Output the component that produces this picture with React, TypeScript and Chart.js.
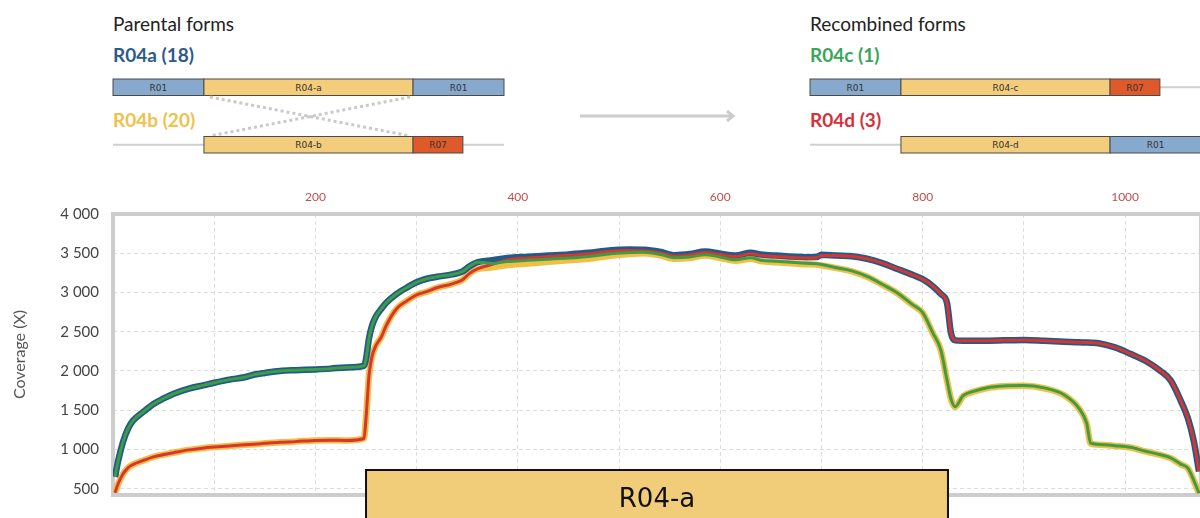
import React, { useEffect, useRef } from 'react';
import { Chart, registerables } from 'chart.js';

Chart.register(...registerables);

// ---------- data ----------
const positions = [
  2, 5, 10, 15, 20, 30, 40, 50, 60, 75, 90, 100, 115, 130, 140, 150, 165, 180, 200, 215, 230, 248,
  250, 253, 256, 260, 265, 270, 280, 290, 300, 310, 320, 335, 345, 352, 360,
  375, 390, 410, 430, 450, 470, 490, 510, 525, 540, 555, 570, 585, 600, 615, 630, 640, 655, 670, 685, 695, 700,
  715, 730, 745, 760, 775, 790, 800, 810, 818, 824, 828, 832,
  840, 850, 865, 880, 900, 920, 940, 955, 962, 966, 975, 990, 1005, 1020, 1035, 1045, 1055, 1062, 1068, 1073,
];

const r04a = [
  650, 850, 1100, 1270, 1370, 1480, 1580, 1650, 1710, 1775, 1820, 1850, 1890, 1920, 1955, 1975, 2000, 2010, 2020, 2030, 2045, 2065,
  2150, 2420, 2580, 2700, 2790, 2870, 2980, 3060, 3130, 3175, 3200, 3230, 3265, 3330, 3385,
  3410, 3440, 3455, 3470, 3485, 3505, 3535, 3548, 3545, 3520, 3475, 3490, 3522, 3495, 3470, 3505, 3485, 3470, 3460, 3450, 3452, 3480,
  3470, 3462, 3430, 3375, 3300, 3225, 3170, 3080, 2980, 2870, 2480, 2390,
  2386, 2385, 2386, 2390, 2395, 2385, 2372, 2365, 2362, 2360, 2350, 2300, 2220, 2130, 2000, 1880, 1620, 1400, 1100, 720,
];

const r04b = [
  450, 560, 690, 770, 810, 860, 905, 935, 960, 995, 1020, 1030, 1045, 1060, 1068, 1078, 1092, 1100, 1115, 1118, 1115, 1140,
  1400, 1950, 2190, 2330, 2430, 2580, 2790, 2890, 2970, 3010, 3060, 3110, 3160, 3240, 3300,
  3320, 3350, 3370, 3390, 3410, 3430, 3465, 3490, 3500, 3475, 3430, 3440, 3470, 3440, 3405, 3430, 3400, 3385, 3372, 3360, 3355, 3345,
  3310, 3270, 3200, 3100, 2990, 2840, 2740, 2480, 2260, 1880, 1640, 1540,
  1680, 1735, 1785, 1805, 1812, 1780, 1690, 1510, 1330, 1075, 1060, 1045, 1025, 975, 930, 890, 810, 760, 600, 440,
];

const r04c = [
  650, 850, 1100, 1270, 1370, 1480, 1580, 1650, 1710, 1775, 1820, 1850, 1890, 1920, 1955, 1975, 2000, 2010, 2020, 2030, 2045, 2065,
  2150, 2420, 2580, 2700, 2790, 2870, 2980, 3060, 3130, 3175, 3200, 3230, 3265, 3330, 3385,
  3370, 3395, 3410, 3425, 3440, 3460, 3490, 3510, 3512, 3487, 3442, 3452, 3482, 3452, 3417, 3442, 3412, 3397, 3384, 3372, 3367, 3357,
  3315, 3275, 3205, 3105, 2995, 2845, 2745, 2485, 2265, 1885, 1645, 1545,
  1685, 1740, 1790, 1810, 1815, 1785, 1695, 1515, 1335, 1080, 1063, 1048, 1028, 978, 933, 893, 813, 763, 603, 443,
];

const r04d = [
  450, 560, 690, 770, 810, 860, 905, 935, 960, 995, 1020, 1030, 1045, 1060, 1068, 1078, 1092, 1100, 1115, 1118, 1115, 1140,
  1400, 1950, 2190, 2330, 2430, 2580, 2790, 2890, 2970, 3010, 3060, 3110, 3160, 3240, 3300,
  3360, 3415, 3440, 3458, 3473, 3493, 3523, 3536, 3533, 3508, 3463, 3478, 3510, 3483, 3458, 3493, 3473, 3458, 3448, 3438, 3442, 3472,
  3470, 3462, 3430, 3375, 3300, 3225, 3170, 3080, 2980, 2870, 2480, 2390,
  2386, 2385, 2386, 2390, 2395, 2385, 2372, 2365, 2362, 2360, 2350, 2300, 2220, 2130, 2000, 1880, 1620, 1400, 1100, 720,
];

const xGridValues = [0, 100, 200, 300, 400, 500, 600, 700, 800, 900, 1000];
const xLabelValues = [200, 400, 600, 800, 1000];
const yTickValues = [500, 1000, 1500, 2000, 2500, 3000, 3500, 4000];
const genomeLength = 1075;
const highlightRegion = { name: 'R04-a', start: 250, end: 825 };

const parentalA = [
  { name: 'R01', start: 0, end: 250 },
  { name: 'R04-a', start: 250, end: 825 },
  { name: 'R01', start: 825, end: 1075 },
];
const parentalB = [
  { name: 'R04-b', start: 250, end: 825 },
  { name: 'R07', start: 825, end: 962 },
];
const recombC = [
  { name: 'R01', start: 0, end: 250 },
  { name: 'R04-c', start: 250, end: 825 },
  { name: 'R07', start: 825, end: 962 },
];
const recombD = [
  { name: 'R04-d', start: 250, end: 825 },
  { name: 'R01', start: 825, end: 1075 },
];

// ---------- styling helpers ----------
const segColor = (name: string) =>
  name.startsWith('R01') ? '#86a9cd' : name.startsWith('R07') ? '#df5a2b' : '#f3cd7b';

const DIAG_W = 391;
const k = DIAG_W / genomeLength;

function Track({ ox, y, segs }: { ox: number; y: number; segs: { name: string; start: number; end: number }[] }) {
  const h = 16.5;
  return (
    <g>
      <line x1={ox} x2={ox + DIAG_W} y1={y + h / 2} y2={y + h / 2} stroke="#cfcfcf" strokeWidth={2} />
      {segs.map((s, i) => {
        const x = ox + s.start * k;
        const w = (s.end - s.start) * k;
        return (
          <g key={i}>
            <rect x={x} y={y} width={w} height={h} fill={segColor(s.name)} stroke="#4a4a4a" strokeWidth={1} />
            <text
              x={x + w / 2}
              y={y + 11.8}
              textAnchor="middle"
              fontFamily="DejaVu Sans"
              fontSize={9}
              fill="#333"
            >
              {s.name}
            </text>
          </g>
        );
      })}
    </g>
  );
}

function Diagram() {
  const g1 = 113;
  const g2 = 810;
  const rowA = 79;
  const rowB = 136.5;
  return (
    <svg width={1200} height={170} style={{ position: 'absolute', left: 0, top: 0 }}>
      <text x={g1} y={31} fontFamily="Lato" fontSize={19} fill="#222">Parental forms</text>
      <text x={g1} y={62} fontFamily="Lato" fontWeight="bold" fontSize={19} fill="#2d5a8c">R04a (18)</text>
      <Track ox={g1} y={rowA} segs={parentalA} />
      <line x1={g1 + 250 * k + 6} y1={97} x2={g1 + 825 * k - 3} y2={136} stroke="#c9c9c9" strokeWidth={3} strokeDasharray="3 3" />
      <line x1={g1 + 825 * k - 3} y1={97} x2={g1 + 250 * k + 6} y2={136} stroke="#c9c9c9" strokeWidth={3} strokeDasharray="3 3" />
      <text x={g1} y={127} fontFamily="Lato" fontWeight="bold" fontSize={19} fill="#f0c14c">R04b (20)</text>
      <Track ox={g1} y={rowB} segs={parentalB} />

      <line x1={580} x2={733} y1={116} y2={116} stroke="#cccccc" strokeWidth={3} />
      <polyline points="727,111 733,116 727,121" fill="none" stroke="#cccccc" strokeWidth={3} />

      <text x={g2} y={31} fontFamily="Lato" fontSize={19} fill="#222">Recombined forms</text>
      <text x={g2} y={62} fontFamily="Lato" fontWeight="bold" fontSize={19} fill="#3aa55a">R04c (1)</text>
      <Track ox={g2} y={rowA} segs={recombC} />
      <text x={g2} y={127} fontFamily="Lato" fontWeight="bold" fontSize={19} fill="#d5313b">R04d (3)</text>
      <Track ox={g2} y={rowB} segs={recombD} />
    </svg>
  );
}

const fmtThousands = (v: number) =>
  v >= 1000 ? `${Math.floor(v / 1000)} ${String(v % 1000).padStart(3, '0')}` : String(v);

function CoverageChart() {
  const ref = useRef<HTMLCanvasElement | null>(null);
  useEffect(() => {
    if (!ref.current) return;
    const toPts = (vals: number[]) => positions.map((x, i) => ({ x, y: vals[i] }));

    const overlay = {
      id: 'overlay',
      beforeDatasetsDraw(chart: any) {
        const { ctx, chartArea: a } = chart;
        ctx.save();
        ctx.strokeStyle = '#cdcdcd';
        ctx.lineWidth = 4;
        ctx.strokeRect(a.left, a.top, a.right - a.left, a.bottom - a.top);
        ctx.restore();
      },
      afterDraw(chart: any) {
        const { ctx, chartArea: a } = chart;
        const xs = chart.scales.x;
        const x1 = xs.getPixelForValue(highlightRegion.start);
        const x2 = xs.getPixelForValue(highlightRegion.end);
        const top = a.bottom - 25;
        ctx.save();
        ctx.fillStyle = '#f1cd79';
        ctx.fillRect(x1, top, x2 - x1, 80);
        ctx.strokeStyle = '#111';
        ctx.lineWidth = 2;
        ctx.strokeRect(x1, top, x2 - x1, 80);
        ctx.fillStyle = '#111';
        ctx.font = '26px "DejaVu Sans"';
        ctx.textAlign = 'center';
        ctx.textBaseline = 'alphabetic';
        ctx.fillText(highlightRegion.name, (x1 + x2) / 2, top + 37);
        ctx.restore();
      },
    };

    const chart = new Chart(ref.current, {
      type: 'line',
      data: {
        datasets: [
          { label: 'R04c', data: toPts(r04c), borderColor: '#3d9c45', borderWidth: 3 },
          { label: 'R04d', data: toPts(r04d), borderColor: '#d8352e', borderWidth: 3 },
          { label: 'R04a', data: toPts(r04a), borderColor: '#245a8a', borderWidth: 6.5 },
          { label: 'R04b', data: toPts(r04b), borderColor: '#f2bf45', borderWidth: 6.5 },
        ].map((d) => ({
          ...d,
          pointRadius: 0,
          tension: 0.3,
          cubicInterpolationMode: 'monotone' as const,
          fill: false,
          borderJoinStyle: 'round' as const,
        })),
      },
      options: {
        responsive: false,
        animation: false,
        devicePixelRatio: 1,
        layout: { padding: { top: 0, left: 0, right: 39, bottom: 23 } },
        plugins: { legend: { display: false }, tooltip: { enabled: false } },
        scales: {
          x: {
            type: 'linear',
            position: 'top',
            min: 0,
            max: genomeLength,
            afterBuildTicks: (s: any) => {
              s.ticks = xGridValues.map((v) => ({ value: v }));
            },
            afterFit: (s: any) => {
              s.height = 34;
            },
            grid: { color: '#dddddd', lineWidth: 1, drawTicks: false },
            border: { display: false, dash: [4, 3] },
            ticks: {
              color: '#c0504d',
              font: { family: 'Lato', size: 12 },
              padding: 10,
              maxRotation: 0,
              autoSkip: false,
              callback: (v: any) => (xLabelValues.includes(Number(v)) ? String(v) : ''),
            },
          },
          y: {
            type: 'linear',
            min: 420,
            max: 4000,
            afterBuildTicks: (s: any) => {
              s.ticks = yTickValues.map((v) => ({ value: v }));
            },
            afterFit: (s: any) => {
              s.width = 113;
            },
            grid: { color: '#dddddd', lineWidth: 1, drawTicks: false },
            border: { display: false, dash: [4, 3] },
            title: {
              display: true,
              text: 'Coverage (X)',
              color: '#555',
              font: { family: 'Lato', size: 16 },
              padding: { top: 10, bottom: 0 },
            },
            ticks: {
              color: '#444',
              font: { family: 'Lato', size: 15 },
              padding: 14,
              autoSkip: false,
              callback: (v: any) => fmtThousands(Number(v)),
            },
          },
        },
      },
      plugins: [overlay],
    });
    return () => chart.destroy();
  }, []);
  return <canvas ref={ref} width={1240} height={338} style={{ position: 'absolute', left: 0, top: 180 }} />;
}

export default function App() {
  return (
    <div style={{ position: 'fixed', left: 0, top: 0, width: '100vw', height: '100vh', overflow: 'hidden', background: '#fff' }}>
      <Diagram />
      <CoverageChart />
    </div>
  );
}
